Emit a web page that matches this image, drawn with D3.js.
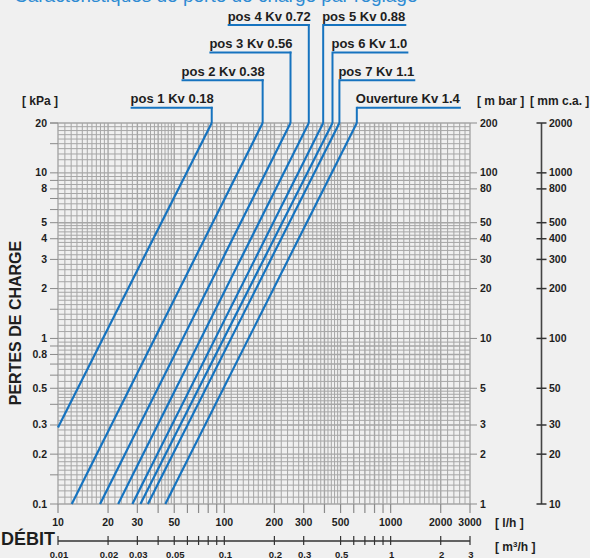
<!DOCTYPE html>
<html><head><meta charset="utf-8">
<script src="https://cdn.jsdelivr.net/npm/d3@7"></script>
<style>
body{margin:0;background:#f0f0f0}
svg{display:block}
text{font-family:"Liberation Sans",Arial,Helvetica,sans-serif;font-weight:bold;fill:#1e1e1e}
</style>
</head><body><svg id="c" width="590" height="558"></svg>
<script>
// ---------- DATA ----------
const seriesLabels = ["pos 1 Kv 0.18","pos 2 Kv 0.38","pos 3 Kv 0.56","pos 4 Kv 0.72","pos 5 Kv 0.88","pos 6 Kv 1.0","pos 7 Kv 1.1","Ouverture Kv 1.4"];
const flowStart = [10, 12.1, 17.9, 23.0, 28.0, 31.3, 34.7, 44.2];      // l/h
const dpStart   = [0.29, 0.1, 0.1, 0.1, 0.1, 0.1, 0.1, 0.1];           // kPa
const flowEnd   = [84, 170, 250, 322, 393, 447, 492, 626];             // l/h
const dpEnd     = [20, 20, 20, 20, 20, 20, 20, 20];                    // kPa
const kpaTicks  = [20,10,8,5,4,3,2,1,0.8,0.5,0.3,0.2,0.1];
const mbarTicks = [200,100,80,50,40,30,20,10,5,3,2,1];
const mmcaTicks = [2000,1000,800,500,400,300,200,100,50,30,20,10];
const lhTicks   = [10,20,30,50,100,200,300,500,1000,2000,3000];
const m3hTicks  = [0.01,0.02,0.03,0.05,0.1,0.2,0.3,0.5,1,2,3];
const m3hMinor  = [0.01,0.02,0.03,0.04,0.05,0.06,0.07,0.08,0.09,0.1,0.2,0.3,0.5,0.6,0.7,0.8,0.9,1,2,3];
const titleText = "Caractéristiques de perte de charge par réglage";

// ---------- LAYOUT ----------
const svg = d3.select("#c");
const L = 58, R = 470, T = 123, B = 504;
const x = d3.scaleLog().domain([10,3000]).range([L,R]);
const y = d3.scaleLog().domain([0.1,20]).range([B,T]);
const yMbar = d3.scaleLog().domain([1,200]).range([B,T]);
const yMm = d3.scaleLog().domain([10,2000]).range([B,T]);
const xM3 = d3.scaleLog().domain([0.01,3]).range([L,R]);
const blue = "#1673bf", grid = "#a6a6a6";

// title (cut off at the top, as in the source)
svg.append("text").attr("x",14).attr("y",1.5).attr("font-size",19).style("font-weight","normal")
  .style("fill","#2d8bd3").text(titleText);

// fine grid values
function gridVals(lo, hi){
  const out=[];
  for(let e=Math.floor(Math.log10(lo)); e<=Math.ceil(Math.log10(hi)); e++){
    const p=Math.pow(10,e);
    const ms=[];
    for(let m=1;m<2-1e-9;m+=0.1) ms.push(m);
    for(let m=2;m<5-1e-9;m+=0.2) ms.push(m);
    for(let m=5;m<10-1e-9;m+=0.5) ms.push(m);
    ms.forEach(m=>{const v=+(m*p).toPrecision(6); if(v>=lo*0.9999 && v<=hi*1.0001) out.push(v);});
  }
  return out;
}
const isMajor = v => { const m = +(v/Math.pow(10,Math.floor(Math.log10(v)+1e-9))).toPrecision(4); return [1,2,3,4,5,6,7,8,9].includes(m); };
const gg = svg.append("g");
gg.selectAll(".gv").data(gridVals(10,3000)).join("line")
  .attr("x1",d=>x(d)).attr("x2",d=>x(d)).attr("y1",T).attr("y2",B)
  .attr("stroke",grid).attr("stroke-width",d=>isMajor(d)?1.4:1);
gg.selectAll(".gh").data(gridVals(0.1,20)).join("line")
  .attr("y1",d=>y(d)).attr("y2",d=>y(d)).attr("x1",L).attr("x2",R)
  .attr("stroke",grid).attr("stroke-width",d=>isMajor(d)?1.4:1);

// left ticks (kPa)
const leftMinor = [];
[0.1,1,10].forEach(p=>[1,1.5,2,3,4,5,6,7,8,9].forEach(m=>{const v=+(m*p).toPrecision(4); if(v<=20) leftMinor.push(v);}));
leftMinor.push(20);
svg.append("g").selectAll("line").data(leftMinor).join("line")
  .attr("x1",50).attr("x2",L).attr("y1",d=>y(d)).attr("y2",d=>y(d)).attr("stroke","#8a8a8a").attr("stroke-width",1);
svg.append("g").selectAll("text").data(kpaTicks).join("text")
  .attr("x",47).attr("y",d=>y(d)+3.5).attr("text-anchor","end").attr("font-size",10.5).text(d=>d);

// right ticks (mbar)
svg.append("g").selectAll("line").data(mbarTicks).join("line")
  .attr("x1",R).attr("x2",R+7).attr("y1",d=>yMbar(d)).attr("y2",d=>yMbar(d)).attr("stroke","#8a8a8a");
svg.append("g").selectAll("text").data(mbarTicks).join("text")
  .attr("x",480).attr("y",d=>yMbar(d)+3.5).attr("font-size",10.5).text(d=>d);

// mm c.a. axis
const AX = 541.5;
svg.append("line").attr("x1",AX).attr("x2",AX).attr("y1",T).attr("y2",B).attr("stroke","#444").attr("stroke-width",1.6);
svg.append("g").selectAll("line").data(mmcaTicks).join("line")
  .attr("x1",AX-5).attr("x2",AX+5).attr("y1",d=>yMm(d)).attr("y2",d=>yMm(d)).attr("stroke","#333").attr("stroke-width",1.5);
svg.append("g").selectAll("text").data(mmcaTicks).join("text")
  .attr("x",549).attr("y",d=>yMm(d)+3.5).attr("font-size",10.5).text(d=>d);

// bottom l/h ticks
const bottomMinor=[];
[10,100,1000].forEach(p=>[1,2,3,4,5,6,7,8,9].forEach(m=>{const v=m*p; if(v<=3000) bottomMinor.push(v);}));
svg.append("g").selectAll("line").data(bottomMinor).join("line")
  .attr("x1",d=>x(d)).attr("x2",d=>x(d)).attr("y1",B).attr("y2",B+9).attr("stroke","#8a8a8a").attr("stroke-width",1.2);
svg.append("g").selectAll("text").data(lhTicks).join("text")
  .attr("x",d=>x(d)).attr("y",526).attr("text-anchor","middle").attr("font-size",10.5).text(d=>d);

// m3/h axis
const MY = 541;
svg.append("line").attr("x1",L).attr("x2",R).attr("y1",MY).attr("y2",MY).attr("stroke","#333").attr("stroke-width",1.3);
svg.append("g").selectAll("line").data(m3hMinor).join("line")
  .attr("x1",d=>xM3(d)).attr("x2",d=>xM3(d)).attr("y1",MY-5).attr("y2",MY+4).attr("stroke","#333").attr("stroke-width",1.2);
svg.append("g").selectAll("text").data(m3hTicks).join("text")
  .attr("x",d=>xM3(d)+1).attr("y",557.5).attr("text-anchor","middle").attr("font-size",9.5).text(d=>d);

// unit labels
svg.append("text").attr("x",22).attr("y",105).attr("font-size",12).text("[ kPa ]");
svg.append("text").attr("x",477).attr("y",105).attr("font-size",12).text("[ m bar ]");
svg.append("text").attr("x",530).attr("y",105).attr("font-size",12).text("[ mm c.a. ]");
svg.append("text").attr("x",495).attr("y",527).attr("font-size",12).text("[ l/h ]");
const m3 = svg.append("text").attr("x",495).attr("y",551).attr("font-size",12);
m3.append("tspan").text("[ m");
m3.append("tspan").attr("font-size",8).attr("dy",-4).text("3");
m3.append("tspan").attr("dy",4).text("/h ]");

svg.append("text").attr("x",1).attr("y",545).attr("font-size",18).text("DÉBIT");
svg.append("text").attr("transform","translate(21,323) rotate(-90)").attr("text-anchor","middle")
  .attr("font-size",16).text("PERTES DE CHARGE");

// curves
const series = seriesLabels.map((s,i)=>({label:s, p0:[flowStart[i],dpStart[i]], p1:[flowEnd[i],dpEnd[i]]}));
const lineGen = d3.line().x(d=>x(d[0])).y(d=>y(d[1]));
svg.append("g").selectAll("path").data(series).join("path")
  .attr("d",d=>lineGen([d.p0,d.p1])).attr("fill","none").attr("stroke",blue).attr("stroke-width",2.2);

// labels with leaders
const rowOf = [3,2,1,0,0,1,2,3];
const sideOf = ["L","L","L","L","R","R","R","R"];
const lg = svg.append("g");
series.forEach((s,i)=>{
  const lx = x(s.p1[0]);
  const base = 20.5 + rowOf[i]*27.6;
  const uy = base + 4.5;
  const t = lg.append("text").attr("y",base).attr("font-size",13).text(s.label);
  const w = t.node().getComputedTextLength();
  let x1,x2;
  if(sideOf[i]==="L"){ t.attr("x",lx+2).attr("text-anchor","end"); x1=lx+2-w; x2=lx; }
  else { t.attr("x",lx-1); x1=lx; x2=lx-1+w; }
  lg.append("line").attr("x1",x1).attr("x2",x2+1).attr("y1",uy).attr("y2",uy).attr("stroke",blue).attr("stroke-width",2);
  lg.append("line").attr("x1",lx).attr("x2",lx).attr("y1",uy-1).attr("y2",y(s.p1[1])).attr("stroke",blue).attr("stroke-width",2);
});
</script></body></html>
